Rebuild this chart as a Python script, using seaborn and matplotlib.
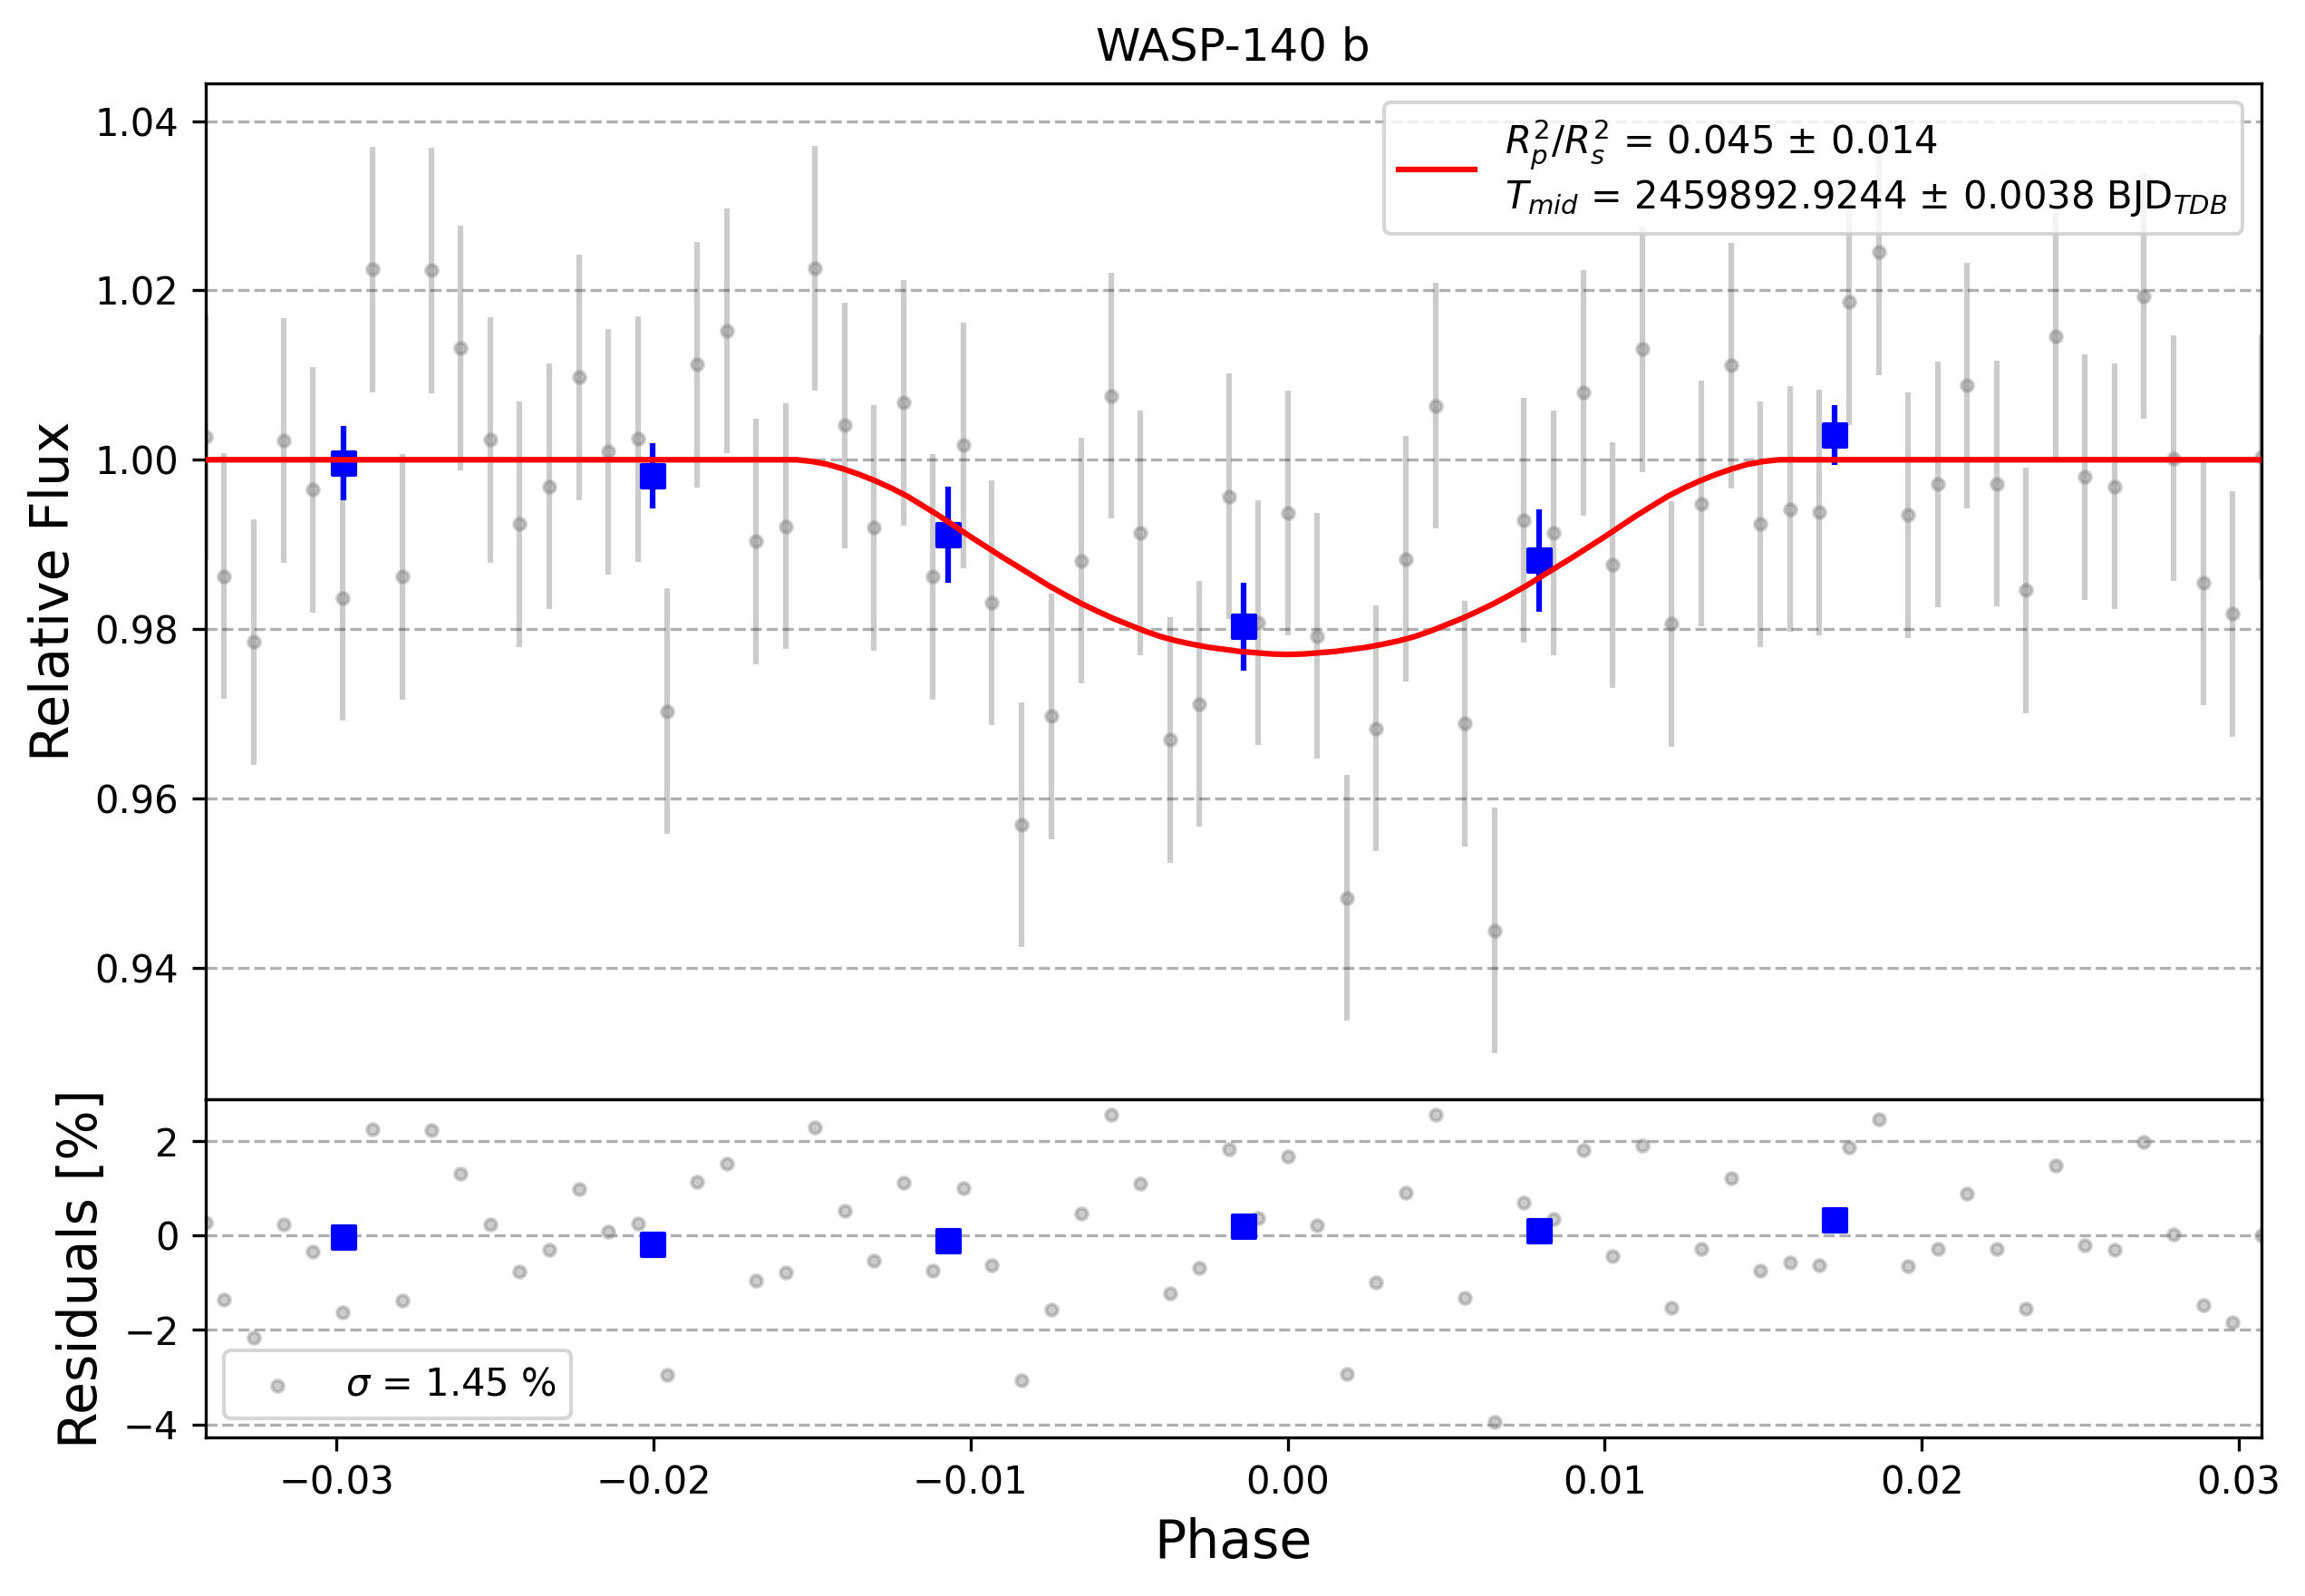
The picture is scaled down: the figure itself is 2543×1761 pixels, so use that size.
import numpy as np
import matplotlib
matplotlib.use("Agg")
import matplotlib.pyplot as plt
import seaborn as sns

# ---------------- data ----------------
phase = [-0.03414, -0.03355, -0.03261, -0.03167, -0.03074, -0.02980, -0.02887, -0.02793,
         -0.02702, -0.02608, -0.02515, -0.02422, -0.02330, -0.02236, -0.02144, -0.02050,
         -0.01957, -0.01863, -0.01769, -0.01676, -0.01582, -0.01491, -0.01397, -0.01304,
         -0.01212, -0.01119, -0.01023, -0.00933, -0.00839, -0.00744, -0.00652, -0.00557,
         -0.00465, -0.00371, -0.00280, -0.00185, -0.00094, 0.00001, 0.00093, 0.00187,
         0.00278, 0.00373, 0.00467, 0.00559, 0.00653, 0.00745, 0.00839, 0.00932,
         0.01026, 0.01118, 0.01212, 0.01304, 0.01398, 0.01491, 0.01585, 0.01677,
         0.01770, 0.01866, 0.01958, 0.02051, 0.02143, 0.02238, 0.02329, 0.02423,
         0.02515, 0.02609, 0.02701, 0.02795, 0.02888, 0.02981, 0.03072]

flux = [1.00267, 0.98625, 0.97848, 1.00228, 0.99647, 0.98366, 1.02247, 0.98617,
        1.02239, 1.01320, 1.00236, 0.99238, 0.99686, 1.00974, 1.00094, 1.00244,
        0.97031, 1.01123, 1.01524, 0.99034, 0.99214, 1.02262, 1.00408, 0.99199,
        1.00676, 0.98617, 1.00173, 0.98311, 0.95688, 0.96968, 0.98806, 1.00754,
        0.99136, 0.96693, 0.97117, 0.99568, 0.98076, 0.99372, 0.97918, 0.94824,
        0.96827, 0.98830, 1.00636, 0.96882, 0.94439, 0.99285, 0.99136, 1.00793,
        0.98759, 1.01304, 0.98060, 0.99482, 1.01115, 0.99238, 0.99419, 0.99379,
        1.01862, 1.02451, 0.99348, 0.99709, 1.00880, 0.99717, 0.98460, 1.01461,
        0.99796, 0.99686, 1.01932, 1.00016, 0.98547, 0.98178, 1.00030]

flux_err = 0.0145

residuals = [0.269, -1.365, -2.154, 0.231, -0.340, -1.635, 2.256, -1.385,
             2.231, 1.308, 0.231, -0.769, -0.308, 0.987, 0.083, 0.250,
             -2.955, 1.135, 1.519, -0.962, -0.782, 2.288, 0.519, -0.538,
             1.115, -0.750, 1.006, -0.635, -3.058, -1.577, 0.462, 2.558,
             1.096, -1.231, -0.692, 1.827, 0.372, 1.673, 0.212, -2.936,
             -1.000, 0.910, 2.558, -1.327, -3.949, 0.699, 0.346, 1.814,
             -0.436, 1.910, -1.538, -0.288, 1.218, -0.750, -0.577, -0.635,
             1.872, 2.462, -0.654, -0.288, 0.891, -0.288, -1.558, 1.481,
             -0.205, -0.308, 1.974, 0.019, -1.474, -1.846, 0.013]

bin_phase = [-0.02977, -0.02003, -0.01070, -0.00139, 0.00792, 0.01725]
bin_flux = [0.99961, 0.99811, 0.99112, 0.98028, 0.98814, 1.00291]
bin_err = [0.00436, 0.00390, 0.00570, 0.00520, 0.00605, 0.00350]
bin_resid = [-0.038, -0.192, -0.115, 0.192, 0.096, 0.333]

model_phase = [-0.03414, -0.0155, -0.0150, -0.0145, -0.0140, -0.0135, -0.0130, -0.0125,
               -0.0120, -0.0115, -0.0110, -0.0105, -0.0100, -0.0095, -0.0090, -0.0085,
               -0.0080, -0.0075, -0.0070, -0.0065, -0.0060, -0.0055, -0.0050, -0.0045,
               -0.0040, -0.0035, -0.0030, -0.0025, -0.0020, -0.0015, -0.0010, -0.0005,
               0.0000,
               0.0005, 0.0010, 0.0015, 0.0020, 0.0025, 0.0030, 0.0035, 0.0040,
               0.0045, 0.0050, 0.0055, 0.0060, 0.0065, 0.0070, 0.0075, 0.0080,
               0.0085, 0.0090, 0.0095, 0.0100, 0.0105, 0.0110, 0.0115, 0.0120,
               0.0125, 0.0130, 0.0135, 0.0140, 0.0145, 0.0150, 0.0155, 0.03072]
model_flux = [1.0000, 1.0000, 0.99980, 0.99945, 0.99890, 0.99825, 0.99750, 0.99665,
              0.99570, 0.99455, 0.99340, 0.99215, 0.99090, 0.98970, 0.98850, 0.98735,
              0.98620, 0.98505, 0.98400, 0.98300, 0.98210, 0.98125, 0.98050, 0.97975,
              0.97910, 0.97860, 0.97820, 0.97785, 0.97760, 0.97735, 0.97720, 0.97705,
              0.97700,
              0.97705, 0.97720, 0.97735, 0.97760, 0.97785, 0.97820, 0.97860, 0.97910,
              0.97975, 0.98050, 0.98125, 0.98210, 0.98300, 0.98400, 0.98505, 0.98620,
              0.98735, 0.98850, 0.98970, 0.99090, 0.99215, 0.99340, 0.99455, 0.99570,
              0.99665, 0.99750, 0.99825, 0.99890, 0.99945, 0.99980, 1.0000, 1.0000]

title = "WASP-140 b"
model_label = (r"$R_{p}^{2}/R_{s}^{2}$ = 0.045 $\pm$ 0.014" + "\n"
               + r"$T_{mid}$ = 2459892.9244 $\pm$ 0.0038 BJD$_{TDB}$")
resid_label = r"$\sigma$ = 1.45 %"

# ---------------- figure ----------------
fig = plt.figure(figsize=(8.4767, 5.8700), dpi=300)
left, width = 0.08907, 0.89206
ax1 = fig.add_axes([left, 0.31118, width, 0.63658])
ax2 = fig.add_axes([left, 0.09937, width, 0.21181], sharex=ax1)

# top panel
ax1.errorbar(phase, flux, yerr=flux_err, fmt="none", ecolor="black", alpha=0.2,
             elinewidth=1.5, zorder=1)
sns.scatterplot(x=phase, y=flux, ax=ax1, color="gray", alpha=0.4, s=9,
                edgecolor="gray", linewidth=1.0, zorder=2, legend=False)
ax1.errorbar(bin_phase, bin_flux, yerr=bin_err, fmt="none", ecolor="blue",
             elinewidth=1.5, zorder=3)
sns.scatterplot(x=bin_phase, y=bin_flux, ax=ax1, color="blue", marker="s", s=36,
                edgecolor="blue", linewidth=1.0, zorder=4, legend=False)
n_lines = len(ax1.lines)
sns.lineplot(x=model_phase, y=model_flux, ax=ax1, color="red", linewidth=1.5,
             sort=False, estimator=None, zorder=5, legend=False)
red_line = ax1.lines[n_lines]
red_line.set_label(model_label)
ax1.legend(handles=[red_line], labels=[model_label], loc="upper right", fontsize=10)

ax1.set_title(title, fontsize=12)
ax1.set_ylabel("Relative Flux", fontsize=14)
ax1.grid(True, axis="y", linestyle="--")
ax1.set_axisbelow(True)
ax1.tick_params(axis="x", which="both", bottom=False, labelbottom=False)
ax1.set_xlabel("")

# residual panel
sns.scatterplot(x=phase, y=residuals, ax=ax2, color="gray", alpha=0.4, s=9,
                edgecolor="gray", linewidth=1.0, zorder=2, legend=False)
res_coll = ax2.collections[-1]
sns.scatterplot(x=bin_phase, y=bin_resid, ax=ax2, color="blue", marker="s", s=36,
                edgecolor="blue", linewidth=1.0, zorder=4, legend=False)
ax2.legend(handles=[res_coll], labels=[resid_label], loc="lower left", fontsize=10)
ax2.set_ylabel("Residuals [%]", fontsize=14)
ax2.set_xlabel("Phase", fontsize=14)
ax2.grid(True, axis="y", linestyle="--")
ax2.set_axisbelow(True)

ax1.set_xlim(phase[0], phase[-1])

fig.savefig("out.png", dpi=300)
